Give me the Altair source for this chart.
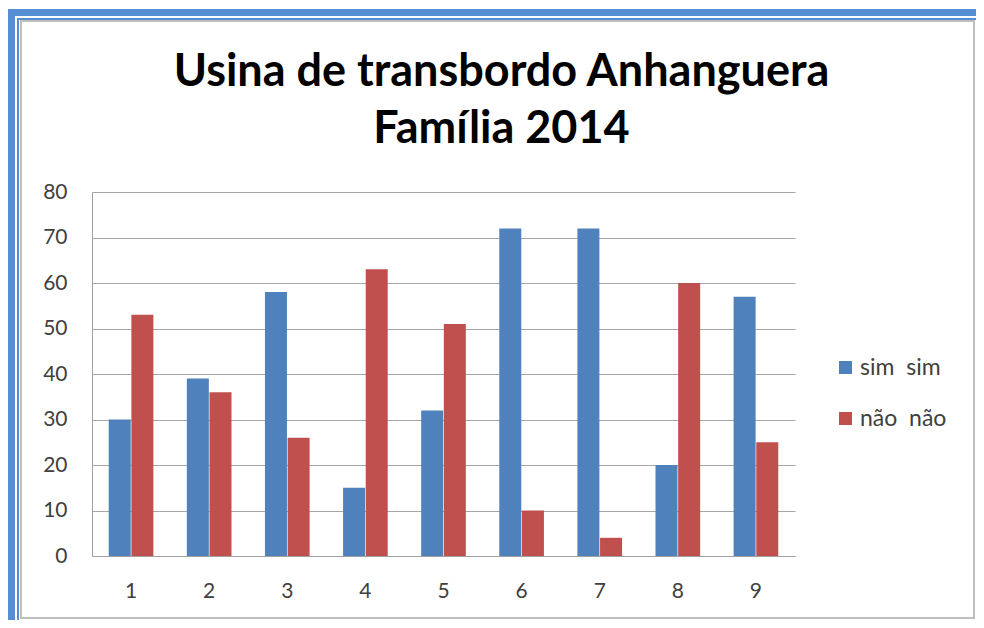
import altair as alt
import pandas as pd

categories = ["1", "2", "3", "4", "5", "6", "7", "8", "9"]
series_names = ["sim\u00a0 sim", "não\u00a0 não"]
sim_values = [30, 39, 58, 15, 32, 72, 72, 20, 57]
nao_values = [53, 36, 26, 63, 51, 10, 4, 60, 25]
y_ticks = [0, 10, 20, 30, 40, 50, 60, 70, 80]
colors = ["#4F81BD", "#C0504D"]

rows = []
for c, s, n in zip(categories, sim_values, nao_values):
    rows.append({"cat": c, "serie": series_names[0], "valor": s})
    rows.append({"cat": c, "serie": series_names[1], "valor": n})
df = pd.DataFrame(rows)

FONT = "Lato"

bars = alt.Chart(df).mark_bar(size=22).encode(
    x=alt.X("cat:N", sort=categories, title=None,
            scale=alt.Scale(paddingInner=0.42, paddingOuter=0.21),
            axis=alt.Axis(labelAngle=0, labelFontSize=21, labelColor="#404040",
                          labelFont=FONT, ticks=False, domainColor="#A0A0A0",
                          labelPadding=24, grid=False)),
    xOffset=alt.XOffset("serie:N", sort=series_names,
                        scale=alt.Scale(paddingInner=0, paddingOuter=0)),
    y=alt.Y("valor:Q", title=None,
            scale=alt.Scale(domain=[0, 80], nice=False),
            axis=alt.Axis(values=y_ticks, labelFontSize=21, labelColor="#404040",
                          labelFont=FONT, ticks=False, domainColor="#A0A0A0",
                          gridColor="#A6A6A6", labelPadding=25)),
    color=alt.Color("serie:N", sort=series_names,
                    scale=alt.Scale(domain=series_names, range=colors),
                    legend=alt.Legend(title=None, orient="none", legendX=742, legendY=164,
                                      symbolType="square", symbolSize=170,
                                      symbolStrokeWidth=0,
                                      labelFontSize=23, labelColor="#404040",
                                      labelFont=FONT, rowPadding=27, labelOffset=3)),
)

frame_thick = alt.Chart(df).mark_rect(fill=None, stroke="#558ED5", strokeWidth=7).encode(
    x=alt.value(-80.5), x2=alt.value(908), y=alt.value(-179.5), y2=alt.value(448)
)
frame_thin = alt.Chart(df).mark_rect(fill=None, stroke="#558ED5", strokeWidth=1.5).encode(
    x=alt.value(-74), x2=alt.value(900), y=alt.value(-173), y2=alt.value(434)
)
frame_grey = alt.Chart(df).mark_rect(fill=None, stroke="#BEBEBE", strokeWidth=2).encode(
    x=alt.value(-71), x2=alt.value(882), y=alt.value(-171), y2=alt.value(426)
)

chart = alt.layer(frame_thick, frame_thin, frame_grey, bars).properties(
    width=703, height=364,
    title=alt.Title(["Usina de transbordo Anhanguera", "Família 2014"],
                    fontSize=45, font=FONT, fontWeight="bold", color="#000000",
                    lineHeight=57, offset=-143, anchor="middle", frame="group", dx=58),
    autosize=alt.AutoSizeParams(type="none"),
    padding={"left": 84, "top": 184, "right": 181, "bottom": 64},
).configure_view(stroke=None)

chart.save("out.html", embed_options={"renderer": "svg", "actions": False})
